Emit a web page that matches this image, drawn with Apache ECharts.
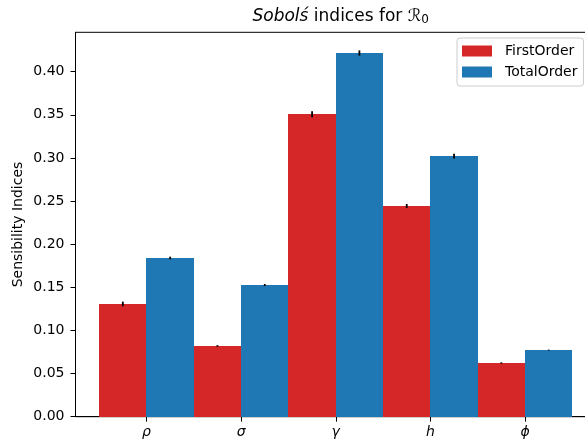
<!DOCTYPE html>
<html>
<head>
<meta charset="utf-8">
<script src="https://cdn.jsdelivr.net/npm/echarts@6/dist/echarts.min.js"></script>
<style>
html,body{margin:0;padding:0;background:#fff;}
#chart{width:585px;height:440px;}
</style>
</head>
<body>
<div id="chart"></div>
<script>
// ---- data ----
const categories = ['ρ', 'σ', 'γ', 'h', 'ϕ'];
const firstOrder = [0.1307, 0.0820, 0.3508, 0.2443, 0.0623];
const firstOrderErr = [0.0027, 0.0010, 0.0035, 0.0024, 0.0008];
const totalOrder = [0.1840, 0.1527, 0.4217, 0.3021, 0.0773];
const totalOrderErr = [0.0015, 0.0012, 0.0030, 0.0027, 0.0005];
const yTicks = [0, 0.05, 0.10, 0.15, 0.20, 0.25, 0.30, 0.35, 0.40];
const xTicks = [0, 1, 2, 3, 4];

const RED = '#d62728', BLUE = '#1f77b4';
const FONT = 'DejaVu Sans';

function barSeries(name, values, errs, color, lo, hi) {
  return {
    name: name,
    type: 'custom',
    itemStyle: { color: color },
    data: values.map((v, i) => [i, v, errs[i]]),
    encode: { x: 0, y: 1 },
    renderItem: function (params, api) {
      const x = api.value(0), y = api.value(1), e = api.value(2);
      const p0 = api.coord([x + lo, y]);
      const p1 = api.coord([x + hi, 0]);
      const c = (lo + hi) / 2;
      const e0 = api.coord([x + c, y - e]);
      const e1 = api.coord([x + c, y + e]);
      const x0 = Math.round(p0[0]), x1 = Math.round(p1[0]);
      const yb = Math.round(p1[1]), yt = Math.round(p0[1]);
      return {
        type: 'group',
        children: [
          { type: 'rect', shape: { x: x0, y: yt, width: x1 - x0, height: yb - yt },
            style: { fill: color } },
          { type: 'line', shape: { x1: e0[0], y1: e0[1], x2: e1[0], y2: e1[1] },
            style: { stroke: '#000', lineWidth: 1.8 } }
        ]
      };
    }
  };
}

const chart = echarts.init(document.getElementById('chart'), null, { renderer: 'canvas' });
chart.setOption({
  animation: false,
  backgroundColor: '#fff',
  textStyle: { fontFamily: FONT },
  title: {
    text: '{i|Sobolś} indices for {m|ℛ}{s|0}',
    left: 335.7,
    top: 2,
    textAlign: 'center',
    textStyle: {
      fontFamily: FONT, fontSize: 17, fontWeight: 'normal', color: '#000',
      rich: {
        i: { fontFamily: FONT, fontSize: 17, fontStyle: 'italic', color: '#000' },
        m: { fontFamily: FONT, fontSize: 17, color: '#000' },
        s: { fontFamily: FONT, fontSize: 12, color: '#000', verticalAlign: 'bottom', padding: [7, 0, 0, 0] }
      }
    }
  },
  legend: {
    orient: 'vertical',
    left: 457,
    top: 38,
    padding: [6, 6, 7, 5],
    itemWidth: 30,
    itemHeight: 11,
    itemGap: 7,
    borderColor: '#cccccc',
    borderWidth: 1,
    borderRadius: 3,
    backgroundColor: 'rgba(255,255,255,0.8)',
    icon: 'rect',
    textStyle: { fontFamily: FONT, fontSize: 14, color: '#000', padding: [0, 0, 0, 8] },
    data: [
      { name: 'FirstOrder', itemStyle: { color: RED } },
      { name: 'TotalOrder', itemStyle: { color: BLUE } }
    ]
  },
  grid: {
    left: 75.5, right: -11, top: 32.3, bottom: 23.3,
    outerBoundsMode: 'none',
    containLabel: false,
    show: true, borderColor: '#000', borderWidth: 1, backgroundColor: 'transparent'
  },
  xAxis: {
    type: 'value',
    min: -0.75,
    max: 4.75,
    splitLine: { show: false },
    axisLine: { show: true, onZero: false, lineStyle: { color: '#000', width: 1 } },
    axisTick: { show: true, length: 5, customValues: xTicks, lineStyle: { color: '#000' } },
    axisLabel: {
      customValues: xTicks,
      formatter: function (v) { return categories[Math.round(v)]; },
      fontFamily: FONT, fontSize: 14, fontStyle: 'italic', color: '#000', margin: 9
    }
  },
  yAxis: {
    type: 'value',
    min: 0,
    max: 0.4457,
    name: 'Sensibility Indices',
    nameLocation: 'middle',
    nameGap: 50,
    nameMoveOverlap: false,
    nameTextStyle: { fontFamily: FONT, fontSize: 14, color: '#000' },
    splitLine: { show: false },
    axisLine: { show: true, onZero: false, lineStyle: { color: '#000', width: 1 } },
    axisTick: { show: true, length: 5, customValues: yTicks, lineStyle: { color: '#000' } },
    axisLabel: {
      customValues: yTicks,
      formatter: function (v) { return v.toFixed(2); },
      fontFamily: FONT, fontSize: 14, color: '#000', margin: 11
    }
  },
  series: [
    barSeries('FirstOrder', firstOrder, firstOrderErr, RED, -0.5, 0),
    barSeries('TotalOrder', totalOrder, totalOrderErr, BLUE, 0, 0.5)
  ]
});
</script>
</body>
</html>
